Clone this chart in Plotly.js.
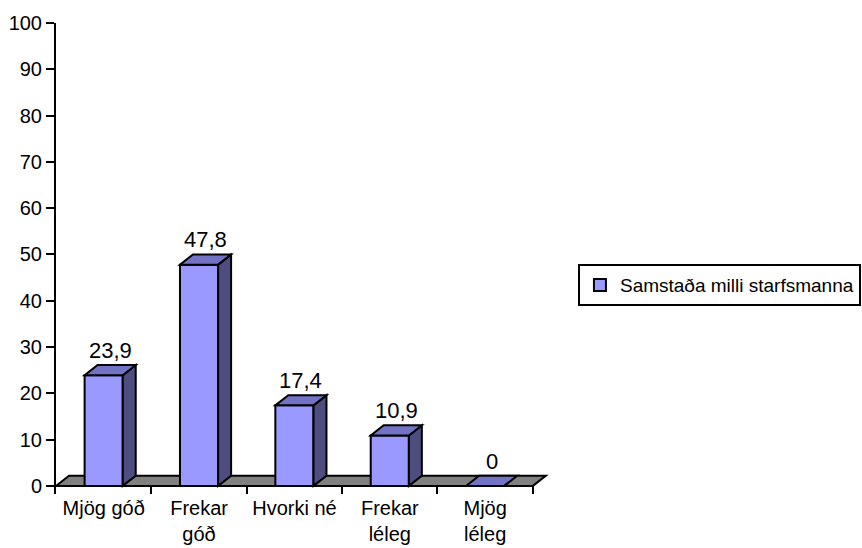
<!DOCTYPE html>
<html>
<head>
<meta charset="utf-8">
<script src="https://cdn.plot.ly/plotly-3.0.1.min.js"></script>
<style>html,body{margin:0;padding:0;background:#fff;overflow:hidden;}#chart{width:862px;height:548px;}</style>
</head>
<body>
<div id="chart"></div>
<script>
// ---- data ----
const categories = ["Mjög góð", "Frekar<br>góð", "Hvorki né", "Frekar<br>léleg", "Mjög<br>léleg"];
const values = [23.9, 47.8, 17.4, 10.9, 0];
const valueLabels = ["23,9", "47,8", "17,4", "10,9", "0"];
const seriesName = "Samstaða milli starfsmanna";
const yTicks = [0, 10, 20, 30, 40, 50, 60, 70, 80, 90, 100];

// ---- styling / geometry ----
const FONT = "Liberation Sans, Arial, sans-serif";
const FRONT = "#9999FF", TOP = "#7373C6", SIDE = "#4D4D80", FLOOR = "#808080";
const BAR_W = 0.4;       // bar width in category units
const DX = 0.136;        // 3D depth, x (category units)
const DY = 2.2;          // 3D depth, y (value units)

const n = categories.length;
const centers = categories.map((_, i) => i + 0.5);
const boundaries = Array.from({length: n + 1}, (_, i) => i);

const shapes = [];
// floor
shapes.push({
  type: "path", xref: "x", yref: "y", layer: "below",
  path: `M0,0 L${n},0 L${n + DX},${DY} L${DX},${DY} Z`,
  fillcolor: FLOOR, line: {color: "#000", width: 2}
});
// 3D faces of bars
values.forEach((v, i) => {
  const x0 = centers[i] - BAR_W / 2, x1 = centers[i] + BAR_W / 2;
  if (v > 0) {
    shapes.push({
      type: "path", xref: "x", yref: "y", layer: "above",
      path: `M${x1},0 L${x1 + DX},${DY} L${x1 + DX},${v + DY} L${x1},${v} Z`,
      fillcolor: SIDE, line: {color: "#000", width: 2}
    });
  }
  shapes.push({
    type: "path", xref: "x", yref: "y", layer: "above",
    path: `M${x0},${v} L${x1},${v} L${x1 + DX},${v + DY} L${x0 + DX},${v + DY} Z`,
    fillcolor: TOP, line: {color: "#000", width: 2}
  });
});

const annotations = values.map((v, i) => ({
  x: centers[i] + DX / 2, y: v + DY, xref: "x", yref: "y",
  text: valueLabels[i], showarrow: false, yanchor: "bottom", yshift: 0,
  font: {family: FONT, size: 22, color: "#000"}
}));

const XR = [0, 5.4];
const traces = [
  {
    type: "bar", name: seriesName, x: centers, y: values, width: BAR_W,
    marker: {color: FRONT, line: {color: "#000", width: 2}},
    hoverinfo: "skip", cliponaxis: false
  },
  {
    type: "scatter", x: centers, y: values.map(() => null), xaxis: "x2",
    showlegend: false, hoverinfo: "skip", mode: "markers"
  }
];

const layout = {
  width: 862, height: 548,
  margin: {l: 56, r: 291, t: 23, b: 54, pad: 0, autoexpand: false},
  paper_bgcolor: "#fff", plot_bgcolor: "#fff",
  font: {family: FONT, color: "#000"},
  showlegend: true,
  xaxis: {
    range: XR, tickmode: "array", tickvals: boundaries, ticktext: boundaries.map(() => ""),
    ticks: "inside", ticklen: 8, tickwidth: 2, tickcolor: "#000",
    showticklabels: false, showline: false, showgrid: false, zeroline: false, fixedrange: true
  },
  xaxis2: {
    overlaying: "x", anchor: "y", side: "bottom", range: XR,
    tickmode: "array", tickvals: centers, ticktext: categories,
    ticks: "", showline: false, showgrid: false, zeroline: false,
    tickfont: {family: FONT, size: 20, color: "#000"}
  },
  yaxis: {
    range: [-1.75, 100], tickmode: "array", tickvals: yTicks,
    ticks: "outside", ticklen: 8, tickwidth: 2, tickcolor: "#000",
    showline: true, linewidth: 2, linecolor: "#000",
    showgrid: false, zeroline: false,
    tickfont: {family: FONT, size: 20, color: "#000"}
  },
  legend: {
    x: 1.0135, y: 0.488, xanchor: "left", yanchor: "top",
    bordercolor: "#000", borderwidth: 2, bgcolor: "#fff",
    font: {family: FONT, size: 19, color: "#000"}
  },
  shapes: shapes,
  annotations: annotations
};

Plotly.newPlot("chart", traces, layout, {displayModeBar: false, staticPlot: true});
</script>
</body>
</html>
